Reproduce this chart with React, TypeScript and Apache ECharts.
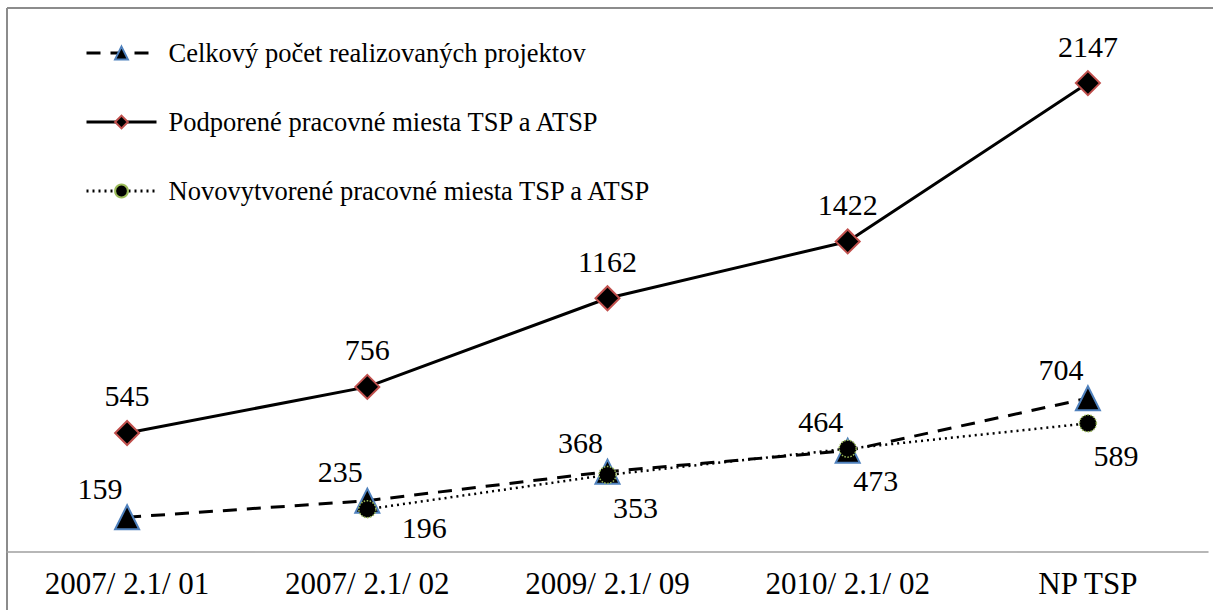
import React, { useEffect, useRef } from "react";
import * as echarts from "echarts";

const categories = ["2007/ 2.1/ 01", "2007/ 2.1/ 02", "2009/ 2.1/ 09", "2010/ 2.1/ 02", "NP TSP"];
const projekty = [159, 235, 368, 464, 704];
const podporene = [545, 756, 1162, 1422, 2147];
const novovytvorene = [null, 196, 353, 473, 589];

const names = [
  "Celkový počet realizovaných projektov",
  "Podporené pracovné miesta TSP a ATSP",
  "Novovytvorené pracovné miesta TSP a ATSP",
];

const FONT = "Liberation Serif";

export default function App() {
  const ref = useRef<HTMLDivElement>(null);
  useEffect(() => {
    const chart = echarts.init(ref.current!, null, { renderer: "svg" });
    // the first visible point of the third series has its label pushed further right
    const firstIdx = novovytvorene.findIndex((v) => v !== null);
    const novData = novovytvorene.map((v, i) =>
      i === firstIdx ? { value: v, label: { offset: [57, -16] } } : v
    );
    chart.setOption({
      animation: false,
      backgroundColor: "#ffffff",
      grid: { left: 7, right: 5, top: 6, bottom: 58 },
      legend: {
        orient: "vertical",
        left: 80,
        top: 33,
        itemWidth: 70,
        itemHeight: 16,
        itemGap: 39,
        lineStyle: { width: 3 },
        textStyle: {
          fontFamily: FONT,
          fontSize: 26.5,
          color: "#000",
          lineHeight: 30,
          padding: [0, 0, 0, 7],
        },
        data: names,
      },
      xAxis: {
        type: "category",
        data: categories,
        boundaryGap: true,
        axisLine: { lineStyle: { color: "#a0a0a0", width: 1.5 } },
        axisTick: { show: false },
        axisLabel: { fontFamily: FONT, fontSize: 31, color: "#000", margin: 16, interval: 0 },
      },
      yAxis: {
        type: "value",
        min: 0,
        max: 2500,
        show: false,
        splitLine: { show: false },
      },
      graphic: [
        { type: "line", shape: { x1: 7, y1: 8, x2: 1213, y2: 8 }, style: { stroke: "#8c8c8c", lineWidth: 2 } },
        { type: "line", shape: { x1: 7, y1: 8, x2: 7, y2: 610 }, style: { stroke: "#8c8c8c", lineWidth: 2 } },
      ],
      series: [
        {
          name: names[0],
          type: "line",
          data: projekty,
          symbol: "triangle",
          symbolSize: 24,
          lineStyle: { color: "#000", width: 3, type: [14, 10] },
          itemStyle: { color: "#000", borderColor: "#4f81bd", borderWidth: 2 },
          label: {
            show: true,
            position: "top",
            offset: [-27, 3],
            distance: 4,
            fontFamily: FONT,
            fontSize: 30,
            color: "#000",
          },
        },
        {
          name: names[1],
          type: "line",
          data: podporene,
          symbol: "diamond",
          symbolSize: 24,
          lineStyle: { color: "#000", width: 3 },
          itemStyle: { color: "#000", borderColor: "#c0504d", borderWidth: 2 },
          label: {
            show: true,
            position: "top",
            distance: 9,
            fontFamily: FONT,
            fontSize: 30,
            color: "#000",
          },
        },
        {
          name: names[2],
          type: "line",
          data: novData,
          symbol: "circle",
          symbolSize: 17,
          connectNulls: false,
          lineStyle: { color: "#000", width: 2.5, type: [2, 4] },
          itemStyle: { color: "#000", borderColor: "#9bbb59", borderWidth: 1.5, borderType: "dotted" },
          label: {
            show: true,
            position: "bottom",
            offset: [28, -2],
            distance: 10,
            fontFamily: FONT,
            fontSize: 30,
            color: "#000",
          },
        },
      ],
    });
    return () => chart.dispose();
  }, []);
  return (
    <div
      ref={ref}
      style={{ position: "fixed", left: 0, top: 0, width: 1213, height: 610 }}
    />
  );
}
